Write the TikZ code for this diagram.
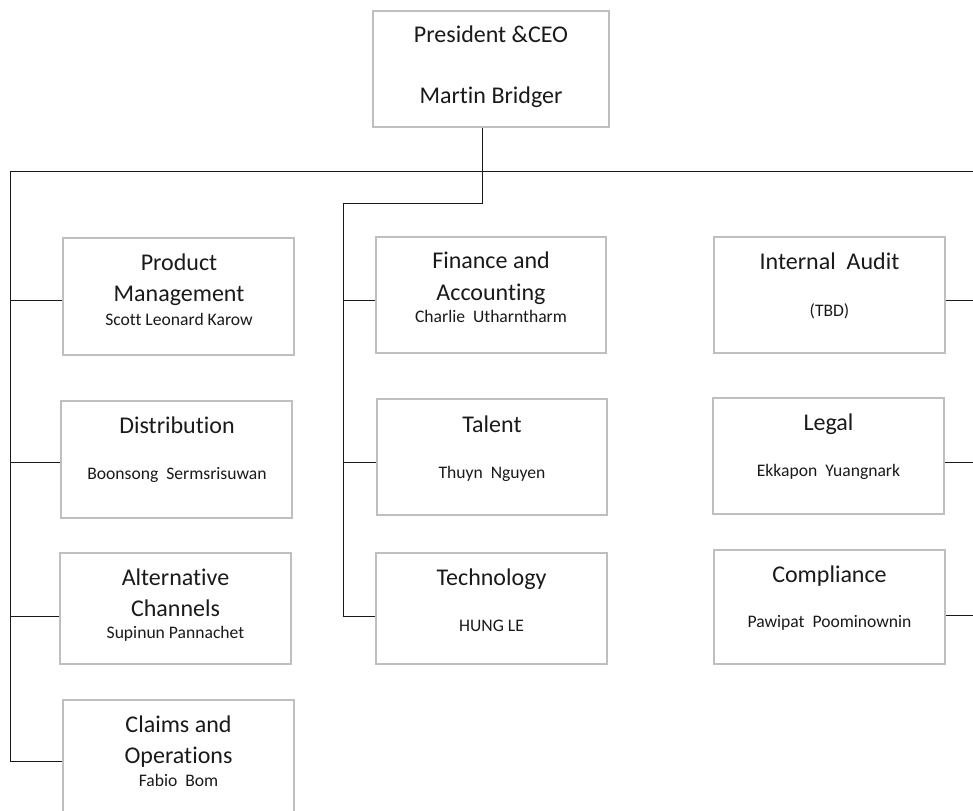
\documentclass[tikz,border=0pt]{standalone}
\usepackage{fontspec}
\setmainfont{Carlito}[Ligatures={NoCommon}]
\definecolor{boxgray}{HTML}{BFBFBF}
\definecolor{txt}{HTML}{1A1A1A}
\begin{document}
\begin{tikzpicture}[x=0.75pt,y=-0.75pt,
  box/.style 2 args={draw=boxgray,line width=1.3pt,minimum width={#1*0.75pt},minimum height={#2*0.75pt},inner sep=0pt,fill=white},
  conn/.style={draw=black!90,line width=0.7pt},
  ttl/.style={anchor=base,inner sep=0pt,text=txt,font=\fontsize{18}{21}\selectfont},
  nm/.style={anchor=base,inner sep=0pt,text=txt,font=\fontsize{13.2}{16}\selectfont}
]
\useasboundingbox (0,0) rectangle (973,810);
\clip (0,0) rectangle (973,810);

% boxes
\node[box={236}{116}] (ceo) at (491,69) {};
\node[box={231}{117}] (pm) at (178.5,296.5) {};
\node[box={231}{117}] (dist) at (176.5,459.5) {};
\node[box={231}{111}] (alt) at (175.5,608.5) {};
\node[box={231}{117}] (claims) at (178.5,758.5) {};
\node[box={230}{116}] (fin) at (491,295) {};
\node[box={230}{116}] (tal) at (492,457) {};
\node[box={231}{111}] (tech) at (491.5,608.5) {};
\node[box={231}{116}] (ia) at (829.5,295) {};
\node[box={231}{116}] (legal) at (828.5,456) {};
\node[box={231}{114}] (comp) at (829.5,607) {};

% bus coordinates
\coordinate (busL) at (10,171);
\coordinate (busR) at (973,171);
\coordinate (c1) at (482,203);
\coordinate (m1) at (343,203);
\coordinate (m2) at (343,300);
\coordinate (m3) at (343,462);
\coordinate (m4) at (343,616);
\coordinate (l1) at (10,300);
\coordinate (l2) at (10,462);
\coordinate (l3) at (10,616);
\coordinate (l4) at (10,761);
\coordinate (r1) at (973,300);
\coordinate (r2) at (973,462);
\coordinate (r3) at (973,615);

% connectors
\draw[conn] (busL) -- (busR);
\draw[conn] (ceo.south -| c1) -- (c1) -- (m1) -- (m4) -- (m4 -| tech.west);
\draw[conn] (m2) -- (m2 -| fin.west);
\draw[conn] (m3) -- (m3 -| tal.west);
\draw[conn] (busL) -- (l4) -- (l4 -| claims.west);
\draw[conn] (l1) -- (l1 -| pm.west);
\draw[conn] (l2) -- (l2 -| dist.west);
\draw[conn] (l3) -- (l3 -| alt.west);
\draw[conn] (ia.east |- r1) -- (r1);
\draw[conn] (legal.east |- r2) -- (r2);
\draw[conn] (comp.east |- r3) -- (r3);

% texts
\node[ttl] (t0a) at (491,42) {President \&CEO};
\node[ttl] (t0b) at (491,103) {Martin Bridger};

\node[ttl] (t1a) at (179,270) {Product};
\node[ttl] (t1b) at (179,301) {Management};
\node[nm] (t1c) at (179,325) {Scott Leonard Karow};

\node[ttl] (t2a) at (177,433) {Distribution};
\node[nm] (t2b) at (177,479) {Boonsong~ Sermsrisuwan};

\node[ttl] (t3a) at (175.5,585) {Alternative};
\node[ttl] (t3b) at (175.5,616) {Channels};
\node[nm] (t3c) at (175.5,638) {Supinun Pannachet};

\node[ttl] (t4a) at (178.5,732) {Claims and};
\node[ttl] (t4b) at (178.5,763) {Operations};
\node[nm] (t4c) at (178.5,786) {Fabio~ Bom};

\node[ttl] (t5a) at (491,268) {Finance and};
\node[ttl] (t5b) at (491,300) {Accounting};
\node[nm] (t5c) at (491,322) {Charlie~ Utharntharm};

\node[ttl] (t6a) at (492,432) {Talent};
\node[nm] (t6b) at (492,478) {Thuyn~ Nguyen};

\node[ttl] (t7a) at (491.5,585) {Technology};
\node[nm] (t7b) at (491.5,631) {HUNG LE};

\node[ttl] (t8a) at (829.5,269) {Internal~ Audit};
\node[nm] (t8b) at (829.5,316) {(TBD)};

\node[ttl] (t9a) at (828.5,430) {Legal};
\node[nm] (t9b) at (828.5,476) {Ekkapon~ Yuangnark};

\node[ttl] (t10a) at (829.5,582) {Compliance};
\node[nm] (t10b) at (829.5,627) {Pawipat~ Poominownin};
\end{tikzpicture}
\end{document}
